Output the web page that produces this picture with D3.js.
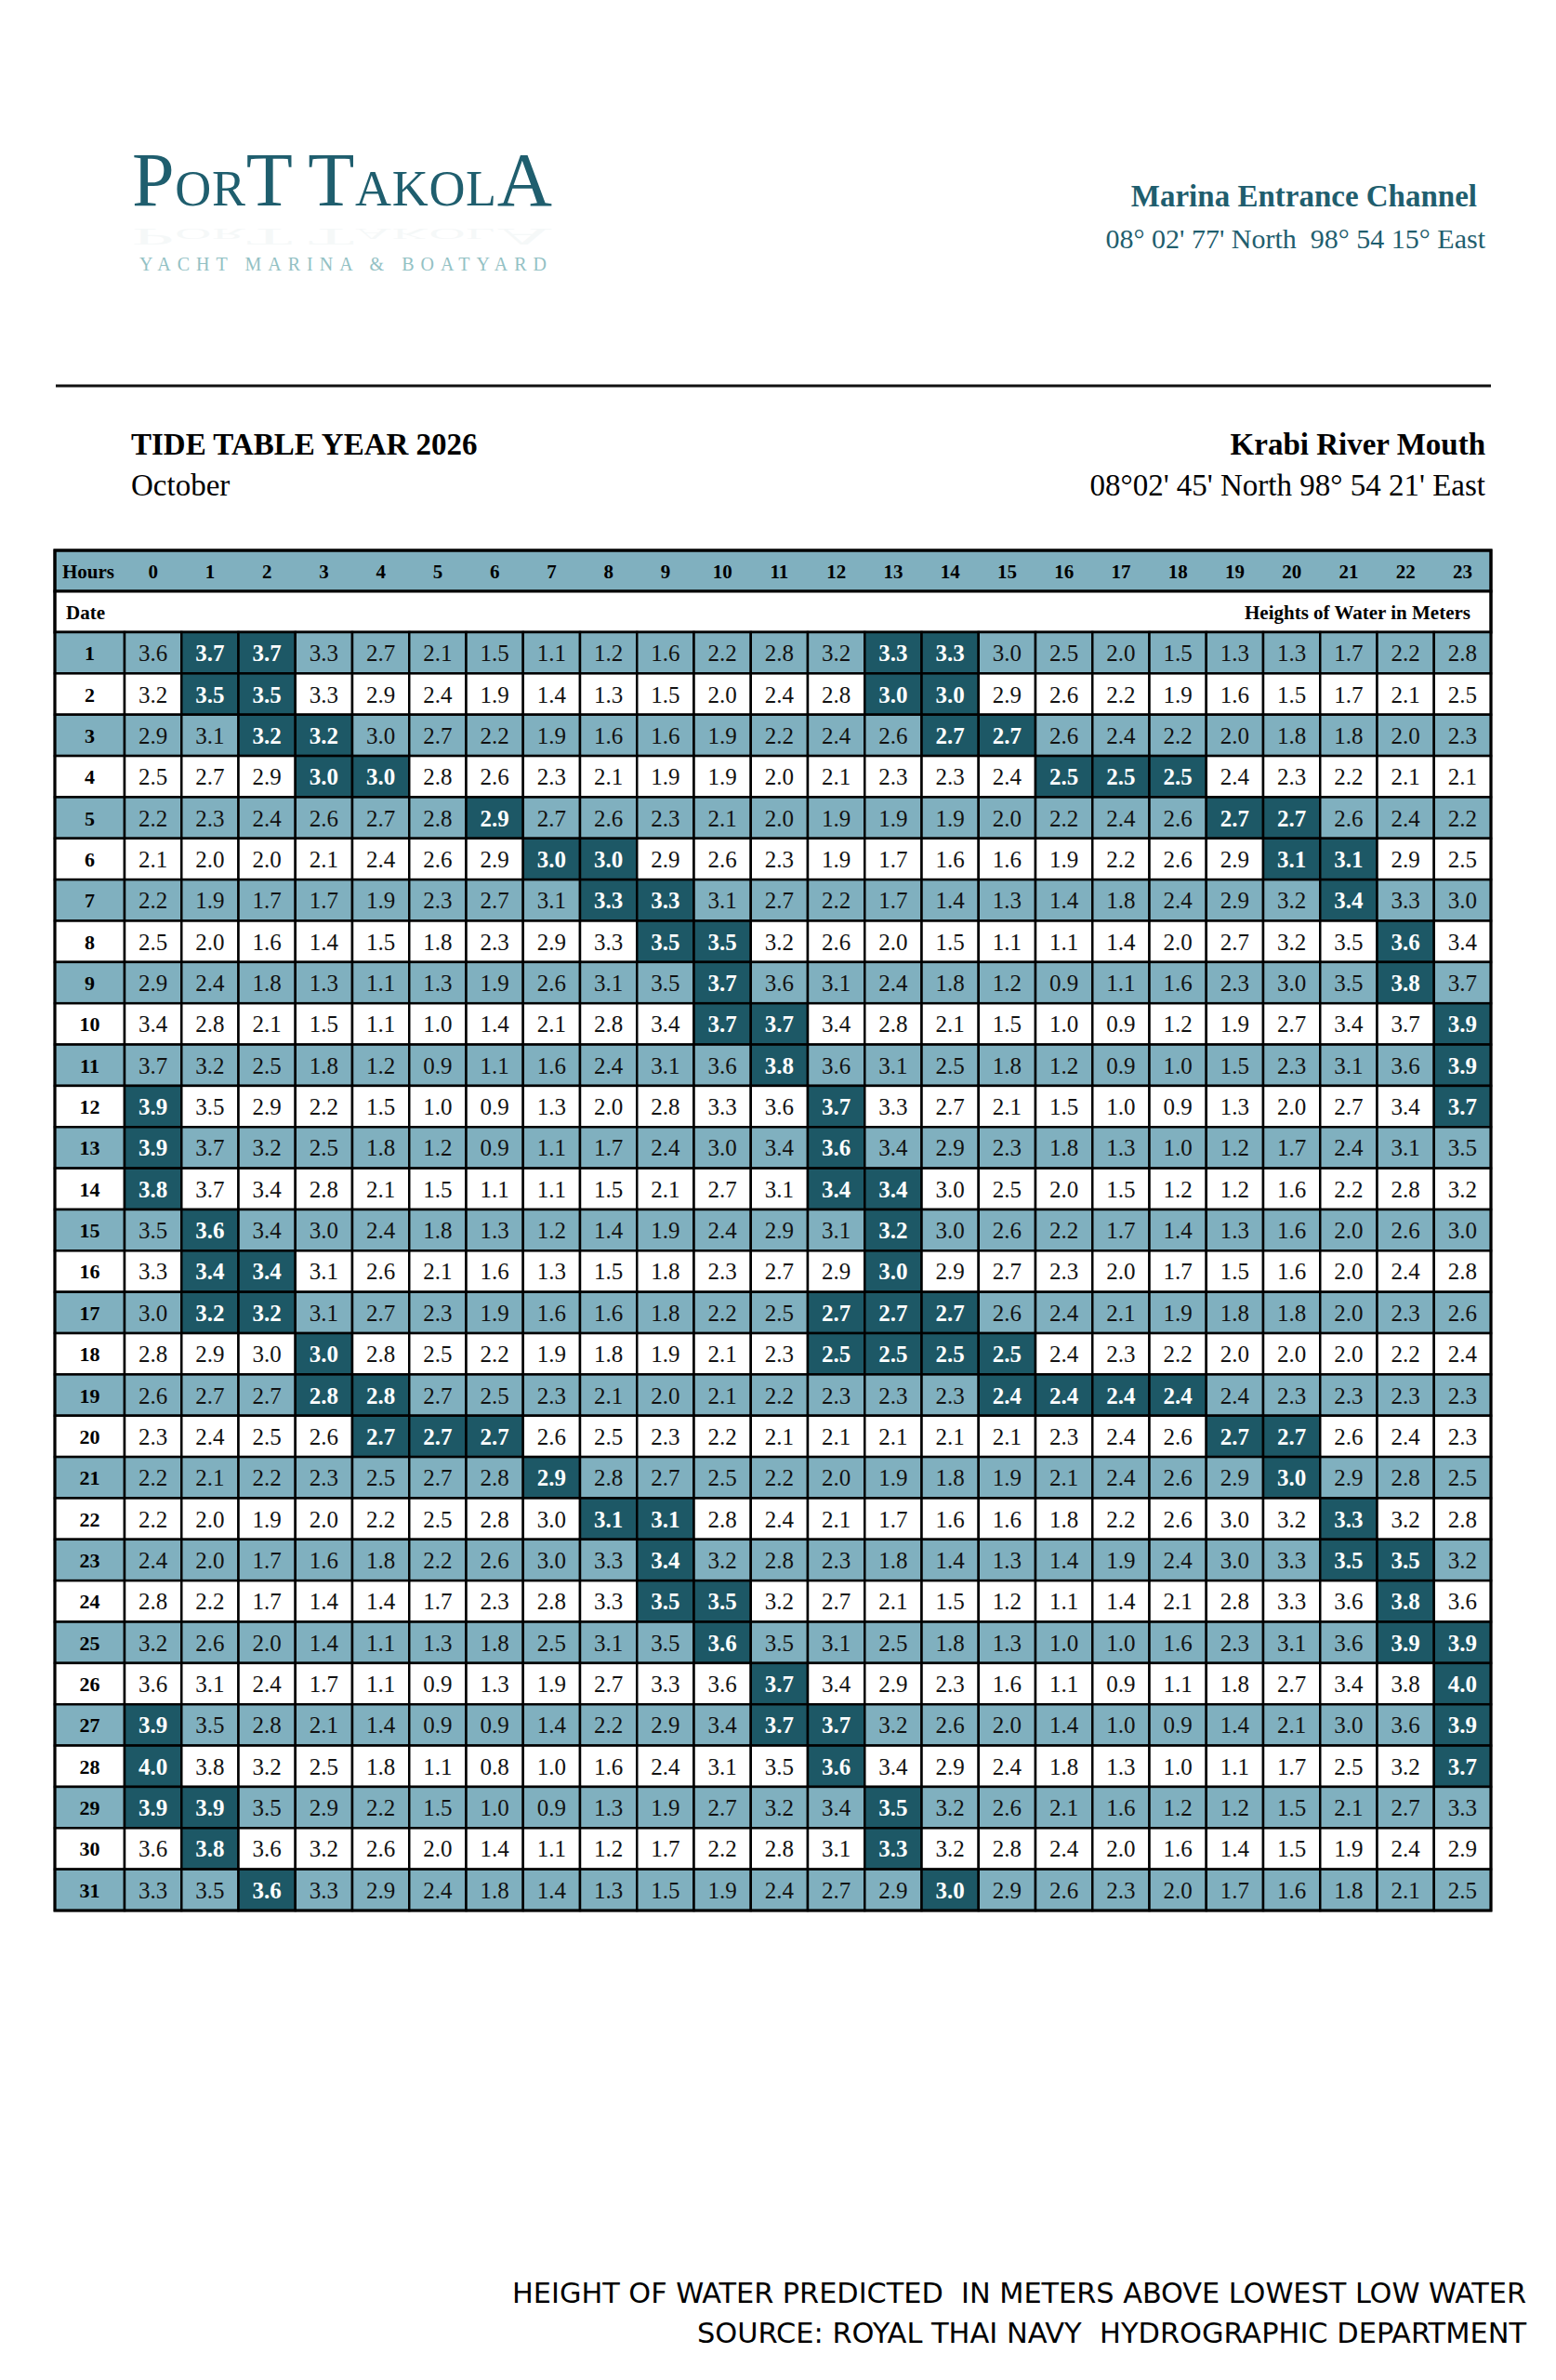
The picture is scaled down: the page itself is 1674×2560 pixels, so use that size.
<!DOCTYPE html>
<html>
<head>
<meta charset="utf-8">
<script src="https://cdn.jsdelivr.net/npm/d3@7/dist/d3.min.js"></script>
<style>
  body { margin: 0; background: #fff; }
  svg { display: block; }
</style>
</head>
<body>
<svg id="sheet"></svg>
<script>
// Tide heights (m) for October 2026, one row per date, one value per hour
const hours = [0, 1, 2, 3, 4, 5, 6, 7, 8, 9, 10, 11, 12, 13, 14, 15, 16, 17, 18, 19, 20, 21, 22, 23];
const days = [1, 2, 3, 4, 5, 6, 7, 8, 9, 10, 11, 12, 13, 14, 15, 16, 17, 18, 19, 20, 21, 22, 23, 24, 25, 26, 27, 28, 29, 30, 31];

const heights = [
  [3.6, 3.7, 3.7, 3.3, 2.7, 2.1, 1.5, 1.1, 1.2, 1.6, 2.2, 2.8, 3.2, 3.3, 3.3, 3.0, 2.5, 2.0, 1.5, 1.3, 1.3, 1.7, 2.2, 2.8],
  [3.2, 3.5, 3.5, 3.3, 2.9, 2.4, 1.9, 1.4, 1.3, 1.5, 2.0, 2.4, 2.8, 3.0, 3.0, 2.9, 2.6, 2.2, 1.9, 1.6, 1.5, 1.7, 2.1, 2.5],
  [2.9, 3.1, 3.2, 3.2, 3.0, 2.7, 2.2, 1.9, 1.6, 1.6, 1.9, 2.2, 2.4, 2.6, 2.7, 2.7, 2.6, 2.4, 2.2, 2.0, 1.8, 1.8, 2.0, 2.3],
  [2.5, 2.7, 2.9, 3.0, 3.0, 2.8, 2.6, 2.3, 2.1, 1.9, 1.9, 2.0, 2.1, 2.3, 2.3, 2.4, 2.5, 2.5, 2.5, 2.4, 2.3, 2.2, 2.1, 2.1],
  [2.2, 2.3, 2.4, 2.6, 2.7, 2.8, 2.9, 2.7, 2.6, 2.3, 2.1, 2.0, 1.9, 1.9, 1.9, 2.0, 2.2, 2.4, 2.6, 2.7, 2.7, 2.6, 2.4, 2.2],
  [2.1, 2.0, 2.0, 2.1, 2.4, 2.6, 2.9, 3.0, 3.0, 2.9, 2.6, 2.3, 1.9, 1.7, 1.6, 1.6, 1.9, 2.2, 2.6, 2.9, 3.1, 3.1, 2.9, 2.5],
  [2.2, 1.9, 1.7, 1.7, 1.9, 2.3, 2.7, 3.1, 3.3, 3.3, 3.1, 2.7, 2.2, 1.7, 1.4, 1.3, 1.4, 1.8, 2.4, 2.9, 3.2, 3.4, 3.3, 3.0],
  [2.5, 2.0, 1.6, 1.4, 1.5, 1.8, 2.3, 2.9, 3.3, 3.5, 3.5, 3.2, 2.6, 2.0, 1.5, 1.1, 1.1, 1.4, 2.0, 2.7, 3.2, 3.5, 3.6, 3.4],
  [2.9, 2.4, 1.8, 1.3, 1.1, 1.3, 1.9, 2.6, 3.1, 3.5, 3.7, 3.6, 3.1, 2.4, 1.8, 1.2, 0.9, 1.1, 1.6, 2.3, 3.0, 3.5, 3.8, 3.7],
  [3.4, 2.8, 2.1, 1.5, 1.1, 1.0, 1.4, 2.1, 2.8, 3.4, 3.7, 3.7, 3.4, 2.8, 2.1, 1.5, 1.0, 0.9, 1.2, 1.9, 2.7, 3.4, 3.7, 3.9],
  [3.7, 3.2, 2.5, 1.8, 1.2, 0.9, 1.1, 1.6, 2.4, 3.1, 3.6, 3.8, 3.6, 3.1, 2.5, 1.8, 1.2, 0.9, 1.0, 1.5, 2.3, 3.1, 3.6, 3.9],
  [3.9, 3.5, 2.9, 2.2, 1.5, 1.0, 0.9, 1.3, 2.0, 2.8, 3.3, 3.6, 3.7, 3.3, 2.7, 2.1, 1.5, 1.0, 0.9, 1.3, 2.0, 2.7, 3.4, 3.7],
  [3.9, 3.7, 3.2, 2.5, 1.8, 1.2, 0.9, 1.1, 1.7, 2.4, 3.0, 3.4, 3.6, 3.4, 2.9, 2.3, 1.8, 1.3, 1.0, 1.2, 1.7, 2.4, 3.1, 3.5],
  [3.8, 3.7, 3.4, 2.8, 2.1, 1.5, 1.1, 1.1, 1.5, 2.1, 2.7, 3.1, 3.4, 3.4, 3.0, 2.5, 2.0, 1.5, 1.2, 1.2, 1.6, 2.2, 2.8, 3.2],
  [3.5, 3.6, 3.4, 3.0, 2.4, 1.8, 1.3, 1.2, 1.4, 1.9, 2.4, 2.9, 3.1, 3.2, 3.0, 2.6, 2.2, 1.7, 1.4, 1.3, 1.6, 2.0, 2.6, 3.0],
  [3.3, 3.4, 3.4, 3.1, 2.6, 2.1, 1.6, 1.3, 1.5, 1.8, 2.3, 2.7, 2.9, 3.0, 2.9, 2.7, 2.3, 2.0, 1.7, 1.5, 1.6, 2.0, 2.4, 2.8],
  [3.0, 3.2, 3.2, 3.1, 2.7, 2.3, 1.9, 1.6, 1.6, 1.8, 2.2, 2.5, 2.7, 2.7, 2.7, 2.6, 2.4, 2.1, 1.9, 1.8, 1.8, 2.0, 2.3, 2.6],
  [2.8, 2.9, 3.0, 3.0, 2.8, 2.5, 2.2, 1.9, 1.8, 1.9, 2.1, 2.3, 2.5, 2.5, 2.5, 2.5, 2.4, 2.3, 2.2, 2.0, 2.0, 2.0, 2.2, 2.4],
  [2.6, 2.7, 2.7, 2.8, 2.8, 2.7, 2.5, 2.3, 2.1, 2.0, 2.1, 2.2, 2.3, 2.3, 2.3, 2.4, 2.4, 2.4, 2.4, 2.4, 2.3, 2.3, 2.3, 2.3],
  [2.3, 2.4, 2.5, 2.6, 2.7, 2.7, 2.7, 2.6, 2.5, 2.3, 2.2, 2.1, 2.1, 2.1, 2.1, 2.1, 2.3, 2.4, 2.6, 2.7, 2.7, 2.6, 2.4, 2.3],
  [2.2, 2.1, 2.2, 2.3, 2.5, 2.7, 2.8, 2.9, 2.8, 2.7, 2.5, 2.2, 2.0, 1.9, 1.8, 1.9, 2.1, 2.4, 2.6, 2.9, 3.0, 2.9, 2.8, 2.5],
  [2.2, 2.0, 1.9, 2.0, 2.2, 2.5, 2.8, 3.0, 3.1, 3.1, 2.8, 2.4, 2.1, 1.7, 1.6, 1.6, 1.8, 2.2, 2.6, 3.0, 3.2, 3.3, 3.2, 2.8],
  [2.4, 2.0, 1.7, 1.6, 1.8, 2.2, 2.6, 3.0, 3.3, 3.4, 3.2, 2.8, 2.3, 1.8, 1.4, 1.3, 1.4, 1.9, 2.4, 3.0, 3.3, 3.5, 3.5, 3.2],
  [2.8, 2.2, 1.7, 1.4, 1.4, 1.7, 2.3, 2.8, 3.3, 3.5, 3.5, 3.2, 2.7, 2.1, 1.5, 1.2, 1.1, 1.4, 2.1, 2.8, 3.3, 3.6, 3.8, 3.6],
  [3.2, 2.6, 2.0, 1.4, 1.1, 1.3, 1.8, 2.5, 3.1, 3.5, 3.6, 3.5, 3.1, 2.5, 1.8, 1.3, 1.0, 1.0, 1.6, 2.3, 3.1, 3.6, 3.9, 3.9],
  [3.6, 3.1, 2.4, 1.7, 1.1, 0.9, 1.3, 1.9, 2.7, 3.3, 3.6, 3.7, 3.4, 2.9, 2.3, 1.6, 1.1, 0.9, 1.1, 1.8, 2.7, 3.4, 3.8, 4.0],
  [3.9, 3.5, 2.8, 2.1, 1.4, 0.9, 0.9, 1.4, 2.2, 2.9, 3.4, 3.7, 3.7, 3.2, 2.6, 2.0, 1.4, 1.0, 0.9, 1.4, 2.1, 3.0, 3.6, 3.9],
  [4.0, 3.8, 3.2, 2.5, 1.8, 1.1, 0.8, 1.0, 1.6, 2.4, 3.1, 3.5, 3.6, 3.4, 2.9, 2.4, 1.8, 1.3, 1.0, 1.1, 1.7, 2.5, 3.2, 3.7],
  [3.9, 3.9, 3.5, 2.9, 2.2, 1.5, 1.0, 0.9, 1.3, 1.9, 2.7, 3.2, 3.4, 3.5, 3.2, 2.6, 2.1, 1.6, 1.2, 1.2, 1.5, 2.1, 2.7, 3.3],
  [3.6, 3.8, 3.6, 3.2, 2.6, 2.0, 1.4, 1.1, 1.2, 1.7, 2.2, 2.8, 3.1, 3.3, 3.2, 2.8, 2.4, 2.0, 1.6, 1.4, 1.5, 1.9, 2.4, 2.9],
  [3.3, 3.5, 3.6, 3.3, 2.9, 2.4, 1.8, 1.4, 1.3, 1.5, 1.9, 2.4, 2.7, 2.9, 3.0, 2.9, 2.6, 2.3, 2.0, 1.7, 1.6, 1.8, 2.1, 2.5]
];

// Hours marked as high water on each date (dark cells)
const highWater = [
  [1, 2, 13, 14], [1, 2, 13, 14], [2, 3, 14, 15], [3, 4, 16, 17, 18], [6, 19, 20],
  [7, 8, 20, 21], [8, 9, 21], [9, 10, 22], [10, 22], [10, 11, 23],
  [11, 23], [0, 12, 23], [0, 12], [0, 12, 13], [1, 13],
  [1, 2, 13], [1, 2, 12, 13, 14], [3, 12, 13, 14, 15], [3, 4, 15, 16, 17, 18], [4, 5, 6, 19, 20],
  [7, 20], [8, 9, 21], [9, 21, 22], [9, 10, 22], [10, 22, 23],
  [11, 23], [0, 11, 12, 23], [0, 12, 23], [0, 1, 13], [1, 13],
  [2, 14]
];

const W = 1674, H = 2560;
const teal = "#80b0bf", dark = "#1d5866", ink = "#1f5e6e";
const serif = "'Liberation Serif', 'Times New Roman', serif";

const svg = d3.select("#sheet")
              .attr("width", W)
              .attr("height", H)
              .style("font-family", serif);

svg.append("rect").attr("width", W).attr("height", H).attr("fill", "#fff");

// ---- logo ----
const logo = svg.append("g");
const logoParts = [["P", 82], ["OR", 54], ["T", 82], [" ", 60], ["T", 82], ["AKOL", 54], ["A", 82]];

// very faint reflection under the name
const refl = logo.append("text")
   .attr("transform", "translate(142,246) scale(1,-0.32)")
   .attr("textLength", 452)
   .attr("lengthAdjust", "spacing")
   .attr("fill", ink)
   .attr("opacity", 0.04);
logoParts.forEach(p => refl.append("tspan").attr("font-size", p[1]).text(p[0]));

const brand = logo.append("text")
   .attr("x", 142)
   .attr("y", 221)
   .attr("textLength", 452)
   .attr("lengthAdjust", "spacing")
   .attr("fill", ink);
logoParts.forEach(p => brand.append("tspan").attr("font-size", p[1]).text(p[0]));

logo.append("text")
   .attr("x", 150)
   .attr("y", 291)
   .attr("font-size", 20)
   .attr("textLength", 438)
   .attr("lengthAdjust", "spacing")
   .attr("fill", "#93c1c4")
   .text("YACHT MARINA & BOATYARD");

// ---- header texts ----
svg.append("text")
   .attr("x", 1589).attr("y", 222)
   .attr("text-anchor", "end")
   .attr("font-size", 33).attr("font-weight", "bold")
   .attr("fill", ink)
   .text("Marina Entrance Channel");

svg.append("text")
   .attr("x", 1598).attr("y", 267)
   .attr("text-anchor", "end")
   .attr("font-size", 30)
   .attr("fill", ink)
   .style("white-space", "pre")
   .text("08° 02' 77' North  98° 54 15° East");

svg.append("line")
   .attr("x1", 60).attr("x2", 1604)
   .attr("y1", 415).attr("y2", 415)
   .attr("stroke", "#111").attr("stroke-width", 3);

svg.append("text")
   .attr("x", 141).attr("y", 489)
   .attr("font-size", 33).attr("font-weight", "bold")
   .text("TIDE TABLE YEAR 2026");

svg.append("text")
   .attr("x", 141).attr("y", 533)
   .attr("font-size", 33)
   .text("October");

svg.append("text")
   .attr("x", 1598).attr("y", 489)
   .attr("text-anchor", "end")
   .attr("font-size", 33).attr("font-weight", "bold")
   .text("Krabi River Mouth");

svg.append("text")
   .attr("x", 1598).attr("y", 533)
   .attr("text-anchor", "end")
   .attr("font-size", 33)
   .text("08°02' 45' North 98° 54 21' East");

// ---- table ----
const tLeft = 59, dateW = 75, tRight = 1604;
const tTop = 592, headH = 44, bodyTop = 680, tBottom = 2055;

const x = d3.scaleBand().domain(hours).range([tLeft + dateW, tRight]);
const y = d3.scaleBand().domain(days).range([bodyTop, tBottom]);

const table = svg.append("g");

// Hours row
table.append("rect")
   .attr("x", tLeft).attr("y", tTop)
   .attr("width", tRight - tLeft).attr("height", headH)
   .attr("fill", teal).attr("stroke", "#000").attr("stroke-width", 3);

table.append("text")
   .attr("x", tLeft + 8).attr("y", tTop + 30)
   .attr("font-size", 21).attr("font-weight", "bold")
   .text("Hours");

table.selectAll(".hour")
   .data(hours)
   .enter().append("text")
   .attr("class", "hour")
   .attr("x", d => x(d) + x.bandwidth() / 2)
   .attr("y", tTop + 30)
   .attr("text-anchor", "middle")
   .attr("font-size", 21).attr("font-weight", "bold")
   .text(d => d);

// Date row
table.append("rect")
   .attr("x", tLeft).attr("y", tTop + headH)
   .attr("width", tRight - tLeft).attr("height", bodyTop - tTop - headH)
   .attr("fill", "#fff").attr("stroke", "#000").attr("stroke-width", 3);

table.append("text")
   .attr("x", tLeft + 12).attr("y", tTop + headH + 30)
   .attr("font-size", 21).attr("font-weight", "bold")
   .text("Date");

table.append("text")
   .attr("x", tRight - 22).attr("y", tTop + headH + 30)
   .attr("text-anchor", "end")
   .attr("font-size", 21).attr("font-weight", "bold")
   .text("Heights of Water in Meters");

// day rows
const rowFill = day => day % 2 === 1 ? teal : "#fff";

const rows = table.selectAll(".row")
   .data(days)
   .enter().append("g")
   .attr("class", "row")
   .attr("transform", d => `translate(0,${y(d)})`);

rows.append("rect")
   .attr("x", tLeft).attr("width", dateW).attr("height", y.bandwidth())
   .attr("fill", d => rowFill(d))
   .attr("stroke", "#000").attr("stroke-width", 2.5);

rows.append("text")
   .attr("x", tLeft + dateW / 2).attr("y", y.bandwidth() / 2 + 8)
   .attr("text-anchor", "middle")
   .attr("font-size", 22).attr("font-weight", "bold")
   .text(d => d);

const cells = rows.selectAll(".cell")
   .data((d, i) => heights[i].map((v, h) => ({ day: d, hour: h, value: v, high: highWater[i].includes(h) })))
   .enter().append("g")
   .attr("class", "cell");

cells.append("rect")
   .attr("x", d => x(d.hour)).attr("width", x.bandwidth()).attr("height", y.bandwidth())
   .attr("fill", d => d.high ? dark : rowFill(d.day))
   .attr("stroke", "#000").attr("stroke-width", 2.5);

cells.append("text")
   .attr("x", d => x(d.hour) + x.bandwidth() / 2)
   .attr("y", y.bandwidth() / 2 + 9)
   .attr("text-anchor", "middle")
   .attr("font-size", 25)
   .attr("font-weight", d => d.high ? "bold" : "normal")
   .attr("fill", d => d.high ? "#fff" : "#111")
   .text(d => d3.format(".1f")(d.value));

// outer frame
table.append("rect")
   .attr("x", tLeft).attr("y", tTop)
   .attr("width", tRight - tLeft).attr("height", tBottom - tTop)
   .attr("fill", "none").attr("stroke", "#000").attr("stroke-width", 3);

// ---- footer notes ----
const notes = [
  "HEIGHT OF WATER PREDICTED  IN METERS ABOVE LOWEST LOW WATER",
  "SOURCE: ROYAL THAI NAVY  HYDROGRAPHIC DEPARTMENT"
];
const noteWidths = [1091, 892];

svg.selectAll(".note")
   .data(notes)
   .enter().append("text")
   .attr("class", "note")
   .attr("x", (d, i) => 1642 - noteWidths[i])
   .attr("y", (d, i) => 2477 + i * 43)
   .attr("font-family", "'DejaVu Sans Condensed', 'Liberation Sans', sans-serif")
   .attr("font-size", 31)
   .attr("textLength", (d, i) => noteWidths[i])
   .attr("lengthAdjust", "spacingAndGlyphs")
   .style("white-space", "pre")
   .text(d => d);
</script>
</body>
</html>
